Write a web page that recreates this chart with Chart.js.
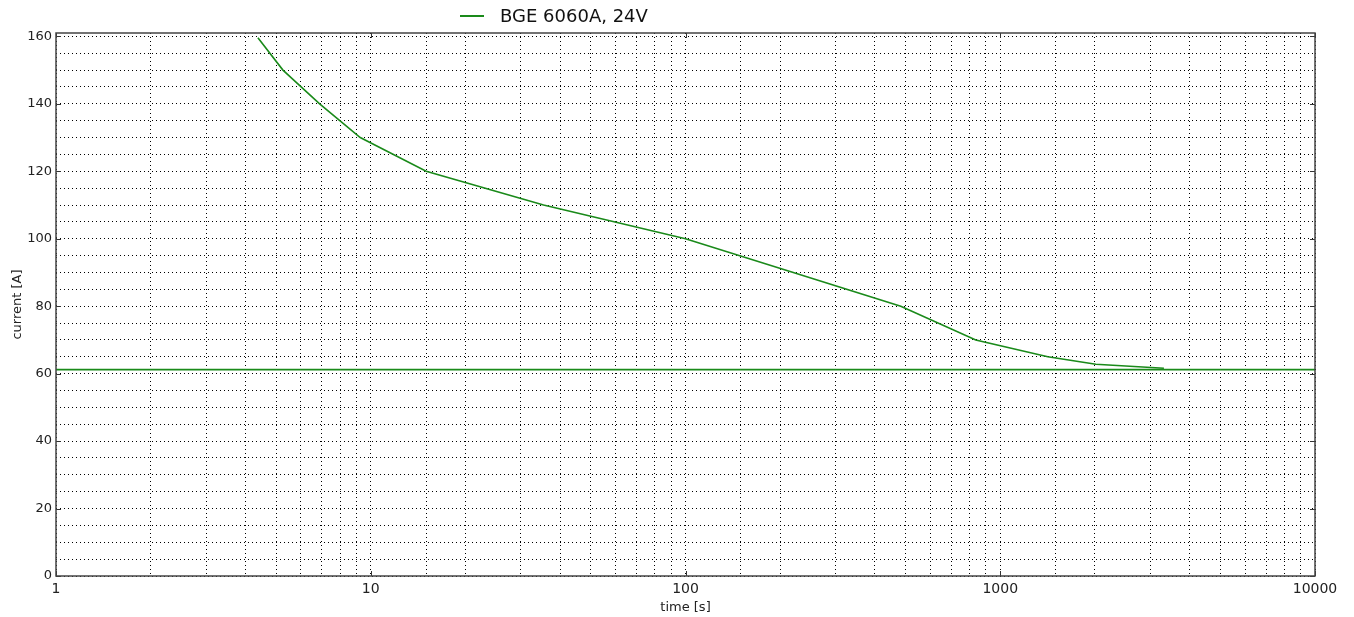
<!DOCTYPE html>
<html>
<head>
<meta charset="utf-8">
<script src="https://cdn.jsdelivr.net/npm/chart.js@4/dist/chart.umd.min.js"></script>
<style>
  html, body { margin: 0; padding: 0; background: #ffffff; }
  #wrap { position: relative; width: 1354px; height: 617px; }
  #c { position: absolute; left: 0; top: 0; }
  #legend { position: absolute; left: 460px; top: 5px; font-family: 'DejaVu Sans', sans-serif; font-size: 18px; line-height: 22px; color: #111; white-space: nowrap; }
  #legend .swatch { position: absolute; left: 0; top: 10px; width: 24px; height: 2px; background: #1a8a1a; display: block; }
  #legend .txt { position: absolute; left: 40px; top: 0; }
</style>
</head>
<body>
<div id="wrap">
  <canvas id="c" width="1354" height="617"></canvas>
  <div id="legend"><span class="swatch"></span><span class="txt" id="legendText"></span></div>
</div>
<script>
// ---- data ----
const seriesLabel = 'BGE 6060A, 24V';
const curveTime = [4.38, 5.26, 6.88, 9.26, 15, 35.4, 100, 220, 483, 836, 1416, 2013, 3311];
const curveCurrent = [159.6, 150, 140, 130, 120, 110, 100, 90, 80, 70, 65, 62.8, 61.6];
const limitTime = [1, 10000];
const limitCurrent = [61.2, 61.2];
const xMajorTicks = [1, 10, 100, 1000, 10000];
const yMajorTicks = [0, 20, 40, 60, 80, 100, 120, 140, 160];

document.getElementById('legendText').textContent = seriesLabel;

const green = '#1a8a1a';
const toPts = (xs, ys) => xs.map((x, i) => ({x: x, y: ys[i]}));

const framePlugin = {
  id: 'frame',
  afterDatasetsDraw(chart) {
    const {ctx, chartArea: a, scales} = chart;
    ctx.save();
    ctx.strokeStyle = '#333';
    ctx.lineWidth = 1;
    xMajorTicks.forEach(v => {
      const px = Math.round(scales.x.getPixelForValue(v)) + 0.5;
      ctx.beginPath();
      ctx.moveTo(px, a.bottom); ctx.lineTo(px, a.bottom - 5);
      ctx.moveTo(px, a.top); ctx.lineTo(px, a.top + 5);
      ctx.stroke();
    });
    yMajorTicks.forEach(v => {
      const py = Math.round(scales.y.getPixelForValue(v)) + 0.5;
      ctx.beginPath();
      ctx.moveTo(a.left, py); ctx.lineTo(a.left + 5, py);
      ctx.moveTo(a.right, py); ctx.lineTo(a.right - 5, py);
      ctx.stroke();
    });
    ctx.strokeStyle = '#444';
    ctx.lineWidth = 1.5;
    ctx.strokeRect(a.left, a.top, a.right - a.left, a.bottom - a.top);
    ctx.restore();
  }
};

new Chart(document.getElementById('c'), {
  type: 'line',
  data: {
    datasets: [
      {
        label: seriesLabel,
        data: toPts(curveTime, curveCurrent),
        borderColor: green,
        borderWidth: 1.6,
        pointRadius: 0,
        tension: 0,
        fill: false
      },
      {
        label: 'limit',
        data: toPts(limitTime, limitCurrent),
        borderColor: green,
        borderWidth: 1.6,
        pointRadius: 0,
        tension: 0,
        fill: false
      }
    ]
  },
  options: {
    responsive: false,
    animation: false,
    devicePixelRatio: 1,
    layout: { padding: { left: 0, right: 39, top: 33, bottom: 0 } },
    plugins: { legend: { display: false }, tooltip: { enabled: false } },
    scales: {
      x: {
        type: 'logarithmic',
        min: 1,
        max: 10000,
        grid: { color: '#000', lineWidth: 1, drawTicks: false },
        border: { display: false, dash: [1, 3] },
        ticks: {
          autoSkip: false,
          maxRotation: 0,
          padding: 5,
          color: '#222',
          font: { family: 'DejaVu Sans', size: 14 },
          callback: (v) => xMajorTicks.includes(v) ? String(v) : ''
        },
        title: {
          display: true,
          text: 'time [s]',
          color: '#222',
          font: { family: 'DejaVu Sans', size: 13 },
          padding: { top: 0, bottom: 2 }
        },
        afterFit: (s) => { s.height = 41; }
      },
      y: {
        type: 'linear',
        min: 0,
        max: 161,
        grid: { color: '#000', lineWidth: 1, drawTicks: false },
        border: { display: false, dash: [1, 3] },
        ticks: {
          stepSize: 5,
          includeBounds: false,
          autoSkip: false,
          padding: 4,
          color: '#222',
          font: { family: 'DejaVu Sans', size: 13 },
          callback: (v) => yMajorTicks.includes(v) ? String(v) : ''
        },
        title: {
          display: true,
          text: 'current [A]',
          color: '#222',
          font: { family: 'DejaVu Sans', size: 13 },
          padding: { top: 10, bottom: 0 }
        },
        afterFit: (s) => { s.width = 56; }
      }
    }
  },
  plugins: [framePlugin]
});
</script>
</body>
</html>
